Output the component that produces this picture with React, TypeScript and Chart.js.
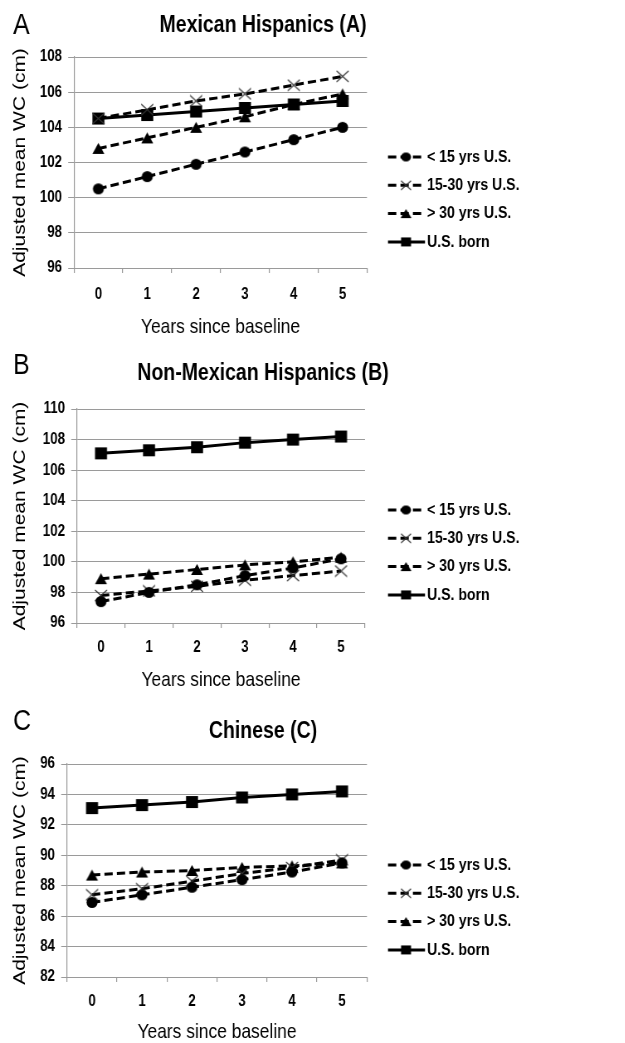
import React, { useEffect, useRef } from 'react';
import { Chart, registerables } from 'chart.js';

Chart.register(...registerables);

// ---------- data ----------
const years = ['0', '1', '2', '3', '4', '5'];
const seriesLabels = ['< 15 yrs U.S.', '15-30 yrs U.S.', '> 30 yrs U.S.', 'U.S. born'];

const mexLt15 = [100.5, 101.2, 101.9, 102.6, 103.3, 104.0];
const mex15to30 = [104.5, 105.0, 105.5, 105.9, 106.4, 106.9];
const mexGt30 = [102.8, 103.4, 104.0, 104.6, 105.3, 105.9];
const mexUSBorn = [104.5, 104.7, 104.9, 105.1, 105.3, 105.5];

const nmxLt15 = [97.4, 98.0, 98.5, 99.1, 99.6, 100.2];
const nmx15to30 = [97.8, 98.1, 98.4, 98.8, 99.1, 99.4];
const nmxGt30 = [98.9, 99.2, 99.5, 99.8, 100.0, 100.3];
const nmxUSBorn = [107.1, 107.3, 107.5, 107.8, 108.0, 108.2];

const chnLt15 = [86.9, 87.4, 87.9, 88.4, 88.9, 89.5];
const chn15to30 = [87.4, 87.8, 88.3, 88.8, 89.2, 89.7];
const chnGt30 = [88.7, 88.9, 89.0, 89.2, 89.3, 89.5];
const chnUSBorn = [93.1, 93.3, 93.5, 93.8, 94.0, 94.2];

const mexYTicks = [96, 98, 100, 102, 104, 106, 108];
const nmxYTicks = [96, 98, 100, 102, 104, 106, 108, 110];
const chnYTicks = [82, 84, 86, 88, 90, 92, 94, 96];

const panelTitles = ['Mexican Hispanics (A)', 'Non-Mexican Hispanics (B)', 'Chinese (C)'];
const panelLetters = ['A', 'B', 'C'];
const xAxisTitle = 'Years since baseline';
const yAxisTitle = 'Adjusted mean WC (cm)';

// ---------- styles / layout ----------
// The figure is drawn on a wider canvas and displayed horizontally compressed,
// like the original (text appears condensed).
const DISPLAY_W = 526;
const W = 634;
const S = DISPLAY_W / W;
const GRID = '#9a9a9a';
const SANS = '"Liberation Sans", Arial, sans-serif';

type MarkerKind = 'circle' | 'cross' | 'triangle' | 'rect';
const markerKinds: MarkerKind[] = ['circle', 'cross', 'triangle', 'rect'];
const markerSizePlot = [[11, 11], [12, 11], [12, 11], [12, 12]];
const markerSizeLegend = [[10, 9], [10, 9], [11, 9], [10, 9]];
const seriesDash = [[10, 5], [10, 5], [10, 5], []];

function makeMarker(kind: MarkerKind, wPage: number, hPage: number): HTMLCanvasElement {
  const w = wPage / S;
  const h = hPage;
  const c = document.createElement('canvas');
  c.width = Math.ceil(w) + 2;
  c.height = Math.ceil(h) + 2;
  const ctx = c.getContext('2d') as CanvasRenderingContext2D;
  const cx = c.width / 2;
  const cy = c.height / 2;
  ctx.fillStyle = '#000';
  ctx.strokeStyle = '#333';
  ctx.beginPath();
  if (kind === 'circle') {
    ctx.ellipse(cx, cy, w / 2, h / 2, 0, 0, Math.PI * 2);
    ctx.fill();
  } else if (kind === 'rect') {
    ctx.rect(cx - w / 2, cy - h / 2, w, h);
    ctx.fill();
  } else if (kind === 'triangle') {
    ctx.moveTo(cx, cy - h / 2);
    ctx.lineTo(cx + w / 2, cy + h / 2);
    ctx.lineTo(cx - w / 2, cy + h / 2);
    ctx.closePath();
    ctx.fill();
  } else {
    ctx.lineWidth = 1.2;
    ctx.moveTo(cx - w / 2, cy - h / 2);
    ctx.lineTo(cx + w / 2, cy + h / 2);
    ctx.moveTo(cx + w / 2, cy - h / 2);
    ctx.lineTo(cx - w / 2, cy + h / 2);
    ctx.stroke();
  }
  return c;
}

type Geo = {
  top: number; height: number; plotTop: number; plotBottom: number; plotLeft: number; plotRight: number;
  titleY: number; letterY: number; tickY: number; xTitleY: number; legendY: number;
};

// x values in page pixels (converted to canvas units below), y in canvas pixels
const geos: Geo[] = [
  { top: 0, height: 345, plotTop: 57, plotBottom: 268, plotLeft: 74, plotRight: 367, titleY: 26, letterY: 26, tickY: 295, xTitleY: 327, legendY: 157 },
  { top: 345, height: 345, plotTop: 64, plotBottom: 278, plotLeft: 77, plotRight: 365, titleY: 29, letterY: 21, tickY: 303, xTitleY: 335, legendY: 165 },
  { top: 690, height: 353, plotTop: 74, plotBottom: 287, plotLeft: 67, plotRight: 367, titleY: 42, letterY: 32, tickY: 312, xTitleY: 342, legendY: 175 },
];

const panelData = [
  { series: [mexLt15, mex15to30, mexGt30, mexUSBorn], yTicks: mexYTicks },
  { series: [nmxLt15, nmx15to30, nmxGt30, nmxUSBorn], yTicks: nmxYTicks },
  { series: [chnLt15, chn15to30, chnGt30, chnUSBorn], yTicks: chnYTicks },
];

function Panel({ idx }: { idx: number }) {
  const ref = useRef<HTMLCanvasElement | null>(null);
  useEffect(() => {
    const g = geos[idx];
    const pd = panelData[idx];
    const plotLeft = g.plotLeft / S;
    const plotRight = g.plotRight / S;
    const xTitleLH = 21 * 1.2;
    const xH = g.xTitleY - g.plotBottom + xTitleLH / 2;
    const tickLH = 16 * 1.2;
    const xTickPad = g.tickY - g.plotBottom - 5 - tickLH / 2;
    const plotMarkers = markerKinds.map((k, i) => makeMarker(k, markerSizePlot[i][0], markerSizePlot[i][1]));
    const legendMarkers = markerKinds.map((k, i) => makeMarker(k, markerSizeLegend[i][0], markerSizeLegend[i][1]));

    const legX0 = 388 / S;
    const legX1 = 425 / S;
    const legMX = 406 / S;
    const legTX = 427 / S;

    const decor = {
      id: 'decor' + idx,
      afterDraw(chart: any) {
        const ctx = chart.ctx as CanvasRenderingContext2D;
        ctx.save();
        ctx.fillStyle = '#000';
        ctx.textBaseline = 'middle';
        ctx.textAlign = 'left';
        ctx.font = `30px ${SANS}`;
        ctx.fillText(panelLetters[idx], 13 / S, g.letterY);
        ctx.textAlign = 'center';
        ctx.font = `bold 23.5px ${SANS}`;
        ctx.fillText(panelTitles[idx], W / 2, g.titleY);
        const gap = 28.3;
        chart.data.datasets.forEach((ds: any, i: number) => {
          const y = g.legendY + i * gap;
          ctx.save();
          ctx.strokeStyle = '#000';
          ctx.lineWidth = 3;
          ctx.setLineDash(seriesDash[i]);
          ctx.beginPath();
          ctx.moveTo(legX0, y);
          ctx.lineTo(legX1, y);
          ctx.stroke();
          ctx.setLineDash([]);
          const m = legendMarkers[i];
          ctx.drawImage(m, legMX - m.width / 2, y - m.height / 2);
          ctx.restore();
          ctx.fillStyle = '#000';
          ctx.textAlign = 'left';
          ctx.textBaseline = 'middle';
          ctx.font = `bold 17px ${SANS}`;
          ctx.fillText(ds.label, legTX, y);
        });
        ctx.restore();
      },
    };

    const chart = new Chart(ref.current as HTMLCanvasElement, {
      type: 'line',
      data: {
        labels: years,
        datasets: pd.series.map((vals, i) => ({
          label: seriesLabels[i],
          data: vals,
          borderColor: '#000',
          backgroundColor: '#000',
          borderWidth: 3,
          borderDash: seriesDash[i],
          pointStyle: plotMarkers[i] as any,
          pointRadius: 6,
          pointHoverRadius: 6,
          tension: 0,
          fill: false,
        })),
      },
      options: {
        responsive: false,
        animation: false,
        devicePixelRatio: 1,
        events: [],
        layout: {
          padding: { left: 0, right: W - plotRight, top: g.plotTop, bottom: g.height - g.plotBottom - xH },
        },
        plugins: { legend: { display: false }, title: { display: false }, tooltip: { enabled: false } },
        scales: {
          x: {
            type: 'category',
            offset: true,
            grid: { offset: true, drawOnChartArea: false, drawTicks: true, tickLength: 5, color: GRID, lineWidth: 1.2 },
            border: { display: true, color: GRID, width: 1 },
            ticks: { font: { family: SANS, size: 16, weight: 'bold', lineHeight: 1.2 }, color: '#000', padding: xTickPad, maxRotation: 0 },
            title: { display: true, text: xAxisTitle, color: '#000', font: { family: SANS, size: 21, lineHeight: 1.2 }, padding: { top: 0, bottom: 0 } },
            afterFit: (s: any) => { s.height = xH; },
          },
          y: {
            min: pd.yTicks[0],
            max: pd.yTicks[pd.yTicks.length - 1],
            afterBuildTicks: (s: any) => { s.ticks = pd.yTicks.map((v) => ({ value: v })); },
            grid: { color: GRID, lineWidth: 1, tickLength: 7, drawTicks: true },
            border: { display: true, color: GRID, width: 1.2 },
            ticks: { font: { family: SANS, size: 16, weight: 'bold', lineHeight: 1.2 }, color: '#000', padding: 7.5 },
            title: { display: true, text: yAxisTitle, color: '#000', font: { family: SANS, size: 21, lineHeight: 1.2 }, padding: { top: 12, bottom: 0 } },
            afterFit: (s: any) => { s.width = plotLeft; },
          },
        },
      },
      plugins: [decor],
    } as any);
    return () => chart.destroy();
  }, [idx]);
  const g = geos[idx];
  return (
    <canvas
      ref={ref}
      width={W}
      height={g.height}
      style={{ position: 'absolute', left: 0, top: g.top, width: DISPLAY_W, height: g.height, display: 'block' }}
    />
  );
}

export default function App() {
  return (
    <div style={{ position: 'absolute', left: 0, top: 0, width: 625, height: 1043, background: '#fff' }}>
      <Panel idx={0} />
      <Panel idx={1} />
      <Panel idx={2} />
    </div>
  );
}
